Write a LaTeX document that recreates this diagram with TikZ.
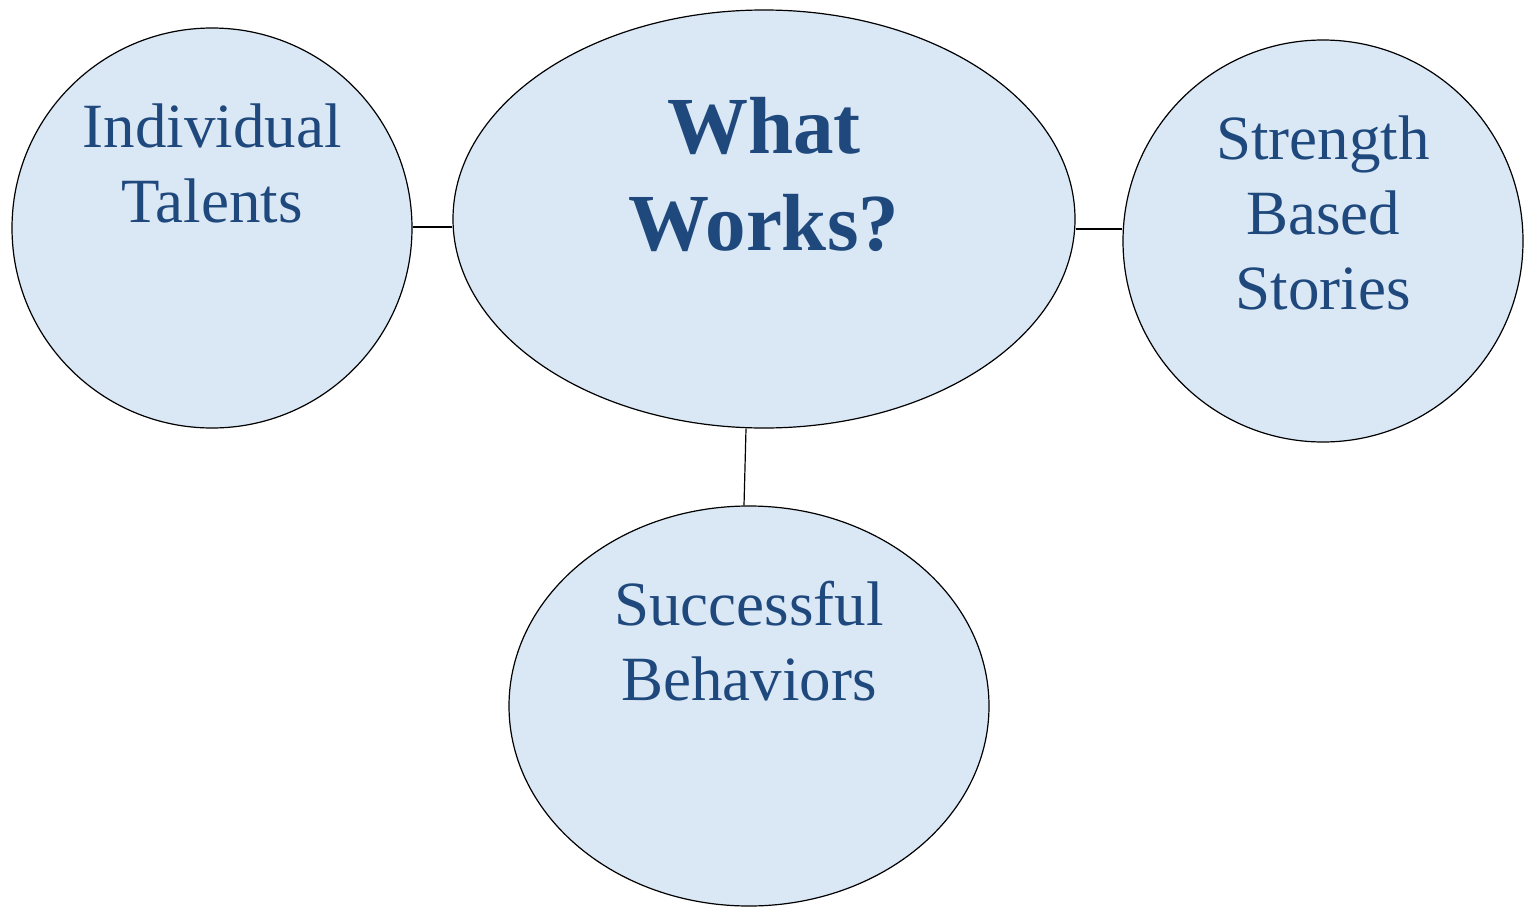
\documentclass[tikz,border=0pt]{standalone}
\usepackage{fontspec}
\setmainfont{Liberation Serif}
\usetikzlibrary{shapes.geometric}
\definecolor{txtblue}{HTML}{1F497D}
\definecolor{bubble}{HTML}{DAE7F5}
\begin{document}
\begin{tikzpicture}[x=1pt,y=-1pt,
  bub/.style={ellipse,draw=black,line width=1.2pt,fill=bubble,inner sep=0pt},
  lbl/.style={text=txtblue,align=center,anchor=base,inner sep=0pt,font=\fontsize{63}{75}\selectfont},
  conn/.style={draw=black,line width=1.2pt}]
\useasboundingbox[fill=white] (0,0) rectangle (1533,907);
\node[bub,minimum width=400,minimum height=400] (lt) at (212,228) {};
\node[bub,minimum width=622,minimum height=418] (ww) at (764,219) {};
\node[bub,minimum width=400,minimum height=402] (sb) at (1323,241) {};
\node[bub,minimum width=480,minimum height=400] (sc) at (749,706) {};
\draw[conn] ([yshift=1pt]lt.east) -- ([yshift=-8pt]ww.west);
\draw[conn] ([yshift=-10pt]ww.east) -- ([yshift=12pt]sb.west);
\draw[conn] ([xshift=-18pt]ww.south) -- ([xshift=-5pt]sc.north);
\node[lbl] (tlt) at (212,222) {Individual\\Talents};
\node[lbl,font=\bfseries\fontsize{81}{97}\selectfont] (tww) at (764,250) {What\\Works?};
\node[lbl] (tsb) at (1323,309) {Strength\\Based\\Stories};
\node[lbl] (tsc) at (749,700) {Successful\\Behaviors};
\end{tikzpicture}
\end{document}
